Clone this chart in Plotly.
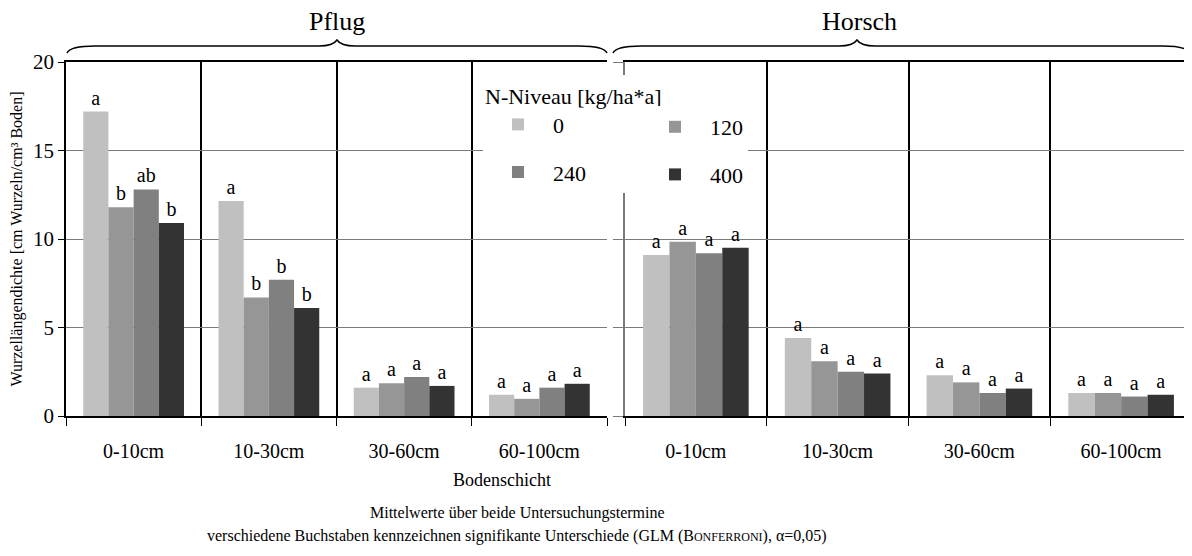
import plotly.graph_objects as go

# ---------------- data ----------------
depths = ["0-10cm", "10-30cm", "30-60cm", "60-100cm"]
n_levels = ["0", "120", "240", "400"]
colors = ["#c0c0c0", "#969696", "#808080", "#333333"]

pflug_0 = [17.2, 12.15, 1.6, 1.2]
pflug_120 = [11.8, 6.7, 1.85, 0.97]
pflug_240 = [12.8, 7.7, 2.2, 1.6]
pflug_400 = [10.9, 6.1, 1.7, 1.82]

horsch_0 = [9.1, 4.4, 2.3, 1.3]
horsch_120 = [9.85, 3.1, 1.9, 1.3]
horsch_240 = [9.2, 2.5, 1.3, 1.1]
horsch_400 = [9.5, 2.4, 1.55, 1.2]

pflug_letters_0 = ["a", "a", "a", "a"]
pflug_letters_120 = ["b", "b", "a", "a"]
pflug_letters_240 = ["ab", "b", "a", "a"]
pflug_letters_400 = ["b", "b", "a", "a"]
horsch_letters_0 = ["a", "a", "a", "a"]
horsch_letters_120 = ["a", "a", "a", "a"]
horsch_letters_240 = ["a", "a", "a", "a"]
horsch_letters_400 = ["a", "a", "a", "a"]

pflug_values = [pflug_0, pflug_120, pflug_240, pflug_400]
horsch_values = [horsch_0, horsch_120, horsch_240, horsch_400]
pflug_letters = [pflug_letters_0, pflug_letters_120, pflug_letters_240, pflug_letters_400]
horsch_letters = [horsch_letters_0, horsch_letters_120, horsch_letters_240, horsch_letters_400]

# ---------------- layout geometry ----------------
OFF = 8  # default page body margin
W, H = 1192 - OFF, 556 - OFF
ML, MR, MT, MB = 66 - OFF, 0, 62 - OFF, 140
PW, PH = W - ML - MR, H - MT - MB
FONT = "Liberation Serif"


def px_x(px):
    return (px - OFF - ML) / PW


def px_y(py):
    return (H - MB - (py - OFF)) / PH


legend_of = {"0": "legend", "240": "legend", "120": "legend2", "400": "legend2"}

fig = go.Figure()
for i, lvl in enumerate(n_levels):
    fig.add_trace(go.Bar(
        x=depths, y=pflug_values[i], name=lvl,
        marker=dict(color=colors[i], line=dict(width=0)),
        text=pflug_letters[i], textposition="outside", cliponaxis=False,
        constraintext="none",
        textfont=dict(family=FONT, size=20, color="black"),
        legendgroup=lvl, legend=legend_of[lvl],
        xaxis="x", yaxis="y",
    ))
for i, lvl in enumerate(n_levels):
    fig.add_trace(go.Bar(
        x=depths, y=horsch_values[i], name=lvl,
        marker=dict(color=colors[i], line=dict(width=0)),
        text=horsch_letters[i], textposition="outside", cliponaxis=False,
        constraintext="none",
        textfont=dict(family=FONT, size=20, color="black"),
        legendgroup=lvl, legend=legend_of[lvl], showlegend=False,
        xaxis="x2", yaxis="y2",
    ))

xaxis_common = dict(
    type="category", range=[-0.5, 3.5], tickson="boundaries",
    showgrid=True, gridcolor="black", gridwidth=1.5,
    ticks="outside", ticklen=8, tickcolor="black", tickwidth=1,
    showline=True, linecolor="black", linewidth=1.5, mirror=True,
    tickfont=dict(family=FONT, size=20, color="black"),
    ticklabelstandoff=16, zeroline=False, fixedrange=True,
)
yaxis_common = dict(
    range=[0, 20], tickvals=[0, 5, 10, 15, 20],
    showgrid=True, gridcolor="#7a7a7a", gridwidth=1,
    zeroline=False, ticks="outside", ticklen=6, fixedrange=True,
)

fig.update_layout(
    width=W, height=H,
    margin=dict(l=ML, r=MR, t=MT, b=MB, autoexpand=False),
    paper_bgcolor="white", plot_bgcolor="white",
    font=dict(family=FONT, color="black", size=18),
    barmode="group", bargap=0.255, bargroupgap=0,
    xaxis=dict(domain=[0, px_x(607)], anchor="y", **xaxis_common),
    xaxis2=dict(domain=[px_x(625), 1], anchor="y2", **xaxis_common),
    yaxis=dict(anchor="x", showline=True, linecolor="black", linewidth=1.5,
               tickcolor="black",
               tickfont=dict(family=FONT, size=21, color="black"),
               title=dict(text="Wurzellängendichte [cm Wurzeln/cm³ Boden]",
                          font=dict(family=FONT, size=16, color="black"),
                          standoff=6),
               **yaxis_common),
    yaxis2=dict(anchor="x2", showline=True, linecolor="#7a7a7a", linewidth=1.5,
                tickcolor="#7a7a7a", showticklabels=False, ticklen=10,
                **{k: v for k, v in yaxis_common.items() if k != "ticklen"}),
    legend=dict(
        x=px_x(483), y=px_y(75), xanchor="left", yanchor="top",
        bgcolor="white", borderwidth=0,
        title=dict(text="N-Niveau [kg/ha*a]", font=dict(family=FONT, size=22)),
        font=dict(family=FONT, size=22, color="black"),
        traceorder="grouped", tracegroupgap=16, itemwidth=60,
    ),
    legend2=dict(
        x=px_x(640), y=px_y(106), xanchor="left", yanchor="top",
        bgcolor="white", borderwidth=0,
        font=dict(family=FONT, size=22, color="black"),
        traceorder="grouped", tracegroupgap=16, itemwidth=60,
    ),
    showlegend=True,
)


def brace_path(x0, x1, xc, y_end, y_arm, y_tip):
    pts = [
        f"M {px_x(x0)},{px_y(y_end)}",
        f"Q {px_x(x0 + 3)},{px_y(y_arm)} {px_x(x0 + 28)},{px_y(y_arm)}",
        f"L {px_x(xc - 18)},{px_y(y_arm)}",
        f"Q {px_x(xc - 4)},{px_y(y_arm)} {px_x(xc)},{px_y(y_tip)}",
        f"Q {px_x(xc + 4)},{px_y(y_arm)} {px_x(xc + 18)},{px_y(y_arm)}",
        f"L {px_x(x1 - 28)},{px_y(y_arm)}",
        f"Q {px_x(x1 - 3)},{px_y(y_arm)} {px_x(x1)},{px_y(y_end)}",
    ]
    return " ".join(pts)


fig.add_shape(type="path", xref="paper", yref="paper",
              path=brace_path(67, 607, 337, 53, 46, 40),
              line=dict(color="black", width=1.5))
fig.add_shape(type="path", xref="paper", yref="paper",
              path=brace_path(613, 1190, 857, 53, 46, 40),
              line=dict(color="black", width=1.5))

annos = [
    dict(text="Pflug", x=px_x(337), y=px_y(22), size=26),
    dict(text="Horsch", x=px_x(859), y=px_y(22), size=26),
    dict(text="Bodenschicht", x=px_x(502), y=px_y(480), size=18),
    dict(text="Mittelwerte über beide Untersuchungstermine", x=px_x(517), y=px_y(513), size=16),
    dict(text="verschiedene Buchstaben kennzeichnen signifikante Unterschiede (GLM (B"
              "<span style='font-size:12px'>ONFERRONI</span>), α=0,05)",
         x=px_x(517), y=px_y(536), size=16),
]
for a in annos:
    fig.add_annotation(text=a["text"], x=a["x"], y=a["y"], xref="paper", yref="paper",
                       xanchor="center", yanchor="middle", showarrow=False,
                       font=dict(family=FONT, size=a["size"], color="black"))

fig.write_html("out.html")
